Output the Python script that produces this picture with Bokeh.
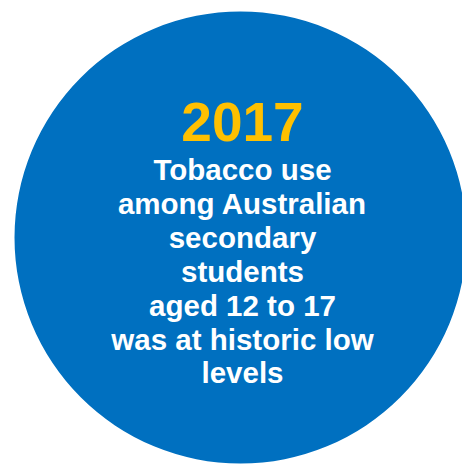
from bokeh.plotting import figure
from bokeh.models import Range1d
from bokeh.core.properties import value
from bokeh.embed import file_html
from bokeh.resources import INLINE

# content
year_label = ["2017"]
message_lines = ["Tobacco use", "among Australian", "secondary", "students",
                 "aged 12 to 17", "was at historic low", "levels"]

# layout (pixel coordinates of the picture)
W, H = 462, 465
cx, cy, R = 240, 237, 226
text_cx = 242
year_y = 121
first_y = 169
line_step = 33.9

p = figure(width=W, height=H, output_backend="svg", toolbar_location=None,
           x_range=Range1d(0, W), y_range=Range1d(H, 0),
           min_border=0, outline_line_color=None)
p.axis.visible = False
p.grid.visible = False
p.background_fill_color = "white"
p.border_fill_color = "white"

p.circle(x=[cx], y=[cy], radius=R, fill_color="#0070C0", line_color=None)

p.text(x=[text_cx], y=[year_y], text=year_label,
       text_font=value("Liberation Sans"), text_font_style="bold",
       text_font_size="55px", text_color="#FFC000",
       text_align="center", text_baseline="alphabetic")

ys = [first_y + i * line_step for i in range(len(message_lines))]
p.text(x=[text_cx] * len(message_lines), y=ys, text=message_lines,
       text_font=value("Liberation Sans"), text_font_style="bold",
       text_font_size="29.5px", text_color="white",
       text_align="center", text_baseline="alphabetic")

open("out.html", "w").write(file_html(p, INLINE))
